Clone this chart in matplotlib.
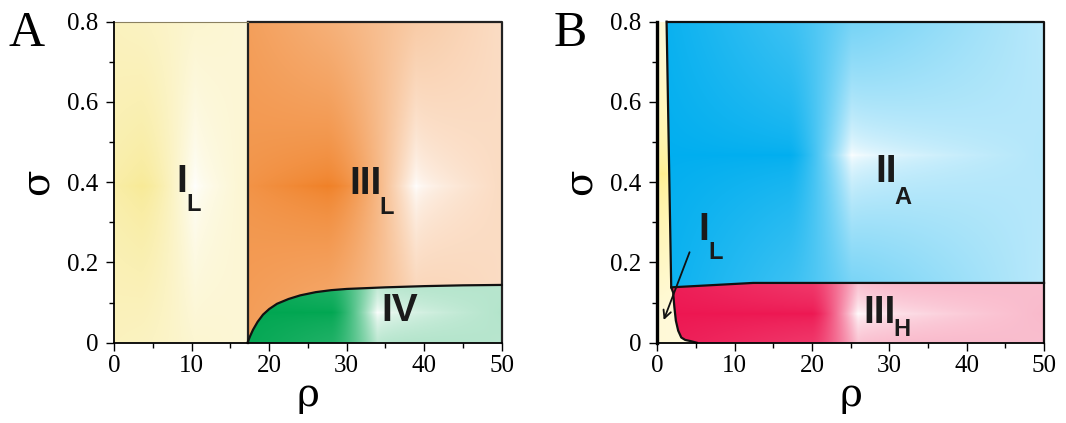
import numpy as np
import matplotlib
matplotlib.use("Agg")
import matplotlib.pyplot as plt
from matplotlib.patches import Polygon
from matplotlib.ticker import MultipleLocator, FixedLocator

# ---------------- data ----------------
x_ticks = [0, 10, 20, 30, 40, 50]
y_ticks = [0, 0.2, 0.4, 0.6, 0.8]
y_tick_labels = ["0", "0.2", "0.4", "0.6", "0.8"]
rho_max = 50
sigma_max = 0.8

# Panel A boundaries
rho_a_IL = 17.2                      # I_L / III_L vertical boundary
rho_a_curve = [17.2, 17.5, 17.9, 18.5, 19.2, 20.0, 21.0, 22.5, 24.0, 26.0,
               28.0, 30.0, 35.0, 40.0, 45.0, 50.0]
sig_a_curve = [0.0, 0.015, 0.032, 0.052, 0.070, 0.084, 0.097, 0.109, 0.118, 0.126,
               0.131, 0.134, 0.138, 0.141, 0.143, 0.144]

# Panel B boundaries
rho_b_yl = [1.2, 1.8, 2.05, 2.2, 2.4, 2.7, 3.1, 3.6, 4.3, 5.1]
sig_b_yl = [0.8, 0.138, 0.125, 0.09, 0.055, 0.030, 0.013, 0.007, 0.004, 0.0]
rho_b_red_top = [1.8, 12.4, 50.0]
sig_b_red_top = [0.138, 0.149, 0.149]

# region colours (darkest tone)
col_yellow = (248, 234, 150)
col_orange = (240, 128, 38)
col_green = (0, 166, 81)
col_blue = (0, 174, 239)
col_red = (237, 22, 81)
col_yellow_b = (255, 240, 140)

# ---------------- helpers ----------------
NX, NY = 700, 450
gx = np.linspace(0, rho_max, NX)
gy = np.linspace(0, sigma_max, NY)
GX, GY = np.meshgrid(gx, gy)


def gradient(base, x0, x1, xd, xw, yc, wl, wr, wel, wer, H, p=1.5):
    """RGBA image: colour weight w toward base, white elsewhere."""
    wh = np.empty_like(GX)
    m1 = GX < xd
    wh[m1] = wl + (1 - wl) * np.clip((GX[m1] - x0) / max(xd - x0, 1e-6), 0, 1)
    m2 = (GX >= xd) & (GX < xw)
    wh[m2] = 1 - ((GX[m2] - xd) / (xw - xd)) ** p
    m3 = GX >= xw
    wh[m3] = wr * np.clip((GX[m3] - xw) / max(x1 - xw, 1e-6), 0, 1) ** 0.6
    wv = wel + (wer - wel) * np.clip((GX - x0) / (x1 - x0), 0, 1)
    b = np.clip(np.abs(GY - yc) / H, 0, 1) ** 0.6
    w = wh * (1 - b) + wv * b
    base = np.array(base) / 255.0
    img = np.ones(GX.shape + (4,))
    for k in range(3):
        img[..., k] = 1 - w * (1 - base[k])
    return img


def fill_region(ax, verts, img):
    poly = Polygon(verts, closed=True, facecolor="none", edgecolor="none")
    ax.add_patch(poly)
    im = ax.imshow(img, extent=[0, rho_max, 0, sigma_max], origin="lower",
                   aspect="auto", interpolation="bilinear", zorder=1)
    im.set_clip_path(poly)


def style_axes(ax):
    ax.set_xlim(0, rho_max)
    ax.set_ylim(0, sigma_max)
    ax.xaxis.set_major_locator(FixedLocator(x_ticks))
    ax.xaxis.set_minor_locator(MultipleLocator(5))
    ax.yaxis.set_major_locator(FixedLocator(y_ticks))
    ax.yaxis.set_minor_locator(MultipleLocator(0.1))
    ax.set_xticklabels([str(v) for v in x_ticks], fontsize=18,
                       fontfamily="Liberation Serif")
    ax.set_yticklabels(y_tick_labels, fontsize=18, fontfamily="Liberation Serif")
    for s in ["top", "right"]:
        ax.spines[s].set_visible(False)
    for s in ["left", "bottom"]:
        ax.spines[s].set_linewidth(1.3)
        ax.spines[s].set_zorder(6)
    ax.tick_params(which="major", direction="out", length=5.5, width=1.0)
    ax.tick_params(which="minor", direction="out", length=3.5, width=1.0)
    ax.tick_params(axis="x", which="major", pad=3)
    ax.tick_params(axis="y", which="major", pad=6)
    ax.set_xlabel("ρ", fontsize=28, fontfamily="DejaVu Serif", labelpad=0)
    ax.set_ylabel("σ", fontsize=28, fontfamily="DejaVu Serif", labelpad=8)


def region_label(ax, x, y, main, sub, xs, ys, size=28, subsize=17):
    ax.text(x, y, main, fontsize=size, fontweight="bold",
            fontfamily="Liberation Sans", ha="center", va="center",
            color="#1a1a1a", zorder=8)
    if sub:
        ax.text(xs, ys, sub, fontsize=subsize, fontweight="bold",
                fontfamily="Liberation Sans", ha="left", va="center",
                color="#1a1a1a", zorder=8)


fig = plt.figure(figsize=(10.66, 4.23), dpi=100)
axA = fig.add_axes([0.1072, 0.1898, 0.3634, 0.7589])
axB = fig.add_axes([0.6166, 0.1898, 0.3628, 0.7589])

# ---------------- Panel A ----------------
ax = axA
ax.set_facecolor("white")
ca = list(zip(rho_a_curve, sig_a_curve))
verts_IL = [(0, 0), (0, sigma_max), (rho_a_IL, sigma_max), (rho_a_IL, 0)]
verts_III = [(rho_a_IL, 0), (rho_a_IL, sigma_max), (rho_max, sigma_max)] + ca[::-1]
verts_IV = ca + [(rho_max, 0)]

fill_region(ax, verts_IL, gradient(col_yellow, 0, rho_a_IL, 3.5, 10.5, 0.39,
                                   0.85, 0.45, 0.6, 0.38, 0.45))
fill_region(ax, verts_III, gradient(col_orange, rho_a_IL, rho_max, 27.5, 39.0, 0.39,
                                    0.85, 0.28, 0.75, 0.27, 0.45))
fill_region(ax, verts_IV, gradient(col_green, rho_a_IL, rho_max, 28.0, 34.0, 0.075,
                                   1.0, 0.3, 0.95, 0.25, 0.3))

lw = 1.6
ax.plot([rho_a_IL, rho_a_IL], [0, sigma_max], color="#222", lw=lw, zorder=5, clip_on=False)
ax.plot([rho_a_IL, rho_max, rho_max], [sigma_max, sigma_max, 0], color="#222", lw=lw,
        zorder=5, clip_on=False)
ax.plot([0, rho_a_IL], [sigma_max, sigma_max], color="#8a8060", lw=0.8, zorder=5, clip_on=False)
ax.plot(rho_a_curve, sig_a_curve, color="#111", lw=lw, zorder=5, clip_on=False)

region_label(ax, 8.7, 0.40, "I", "L", 9.35, 0.345)
region_label(ax, 32.4, 0.395, "III", "L", 34.2, 0.338)
region_label(ax, 36.9, 0.079, "IV", "", 0, 0)
style_axes(ax)

# ---------------- Panel B ----------------
ax = axB
ax.set_facecolor("white")
yl = list(zip(rho_b_yl, sig_b_yl))
rt = list(zip(rho_b_red_top, sig_b_red_top))
verts_Y = [(0, 0), (0, sigma_max)] + yl
verts_blue = [(rho_b_yl[0], sigma_max), (rho_max, sigma_max)] + rt[::-1] + \
    [p for p in yl[::-1] if p[1] > 0.138]
verts_red = rt + [(rho_max, 0)] + [p for p in yl[::-1] if p[1] < 0.138]

fill_region(ax, verts_Y, gradient(col_yellow_b, 0, 5, 0.6, 4.5, 0.42,
                                  0.9, 0.2, 0.35, 0.3, 0.35))
fill_region(ax, verts_blue, gradient(col_blue, 0, rho_max, 17.0, 25.2, 0.467,
                                     1.0, 0.3, 0.97, 0.27, 0.42))
fill_region(ax, verts_red, gradient(col_red, 0, rho_max, 20.0, 26.0, 0.072,
                                    1.0, 0.3, 0.95, 0.25, 0.3))

ax.plot(rho_b_yl, sig_b_yl, color="#111", lw=lw, zorder=5, clip_on=False)
ax.plot(rho_b_red_top, sig_b_red_top, color="#111", lw=lw, zorder=5, clip_on=False)
ax.plot([rho_b_yl[0], rho_max, rho_max], [sigma_max, sigma_max, 0], color="#111",
        lw=lw, zorder=5, clip_on=False)

region_label(ax, 29.6, 0.425, "II", "A", 30.7, 0.362)
region_label(ax, 28.7, 0.073, "III", "H", 30.5, 0.032)
region_label(ax, 6.0, 0.280, "I", "L", 6.6, 0.224)
ax.annotate("", xy=(0.7, 0.05), xytext=(4.3, 0.232),
            arrowprops=dict(arrowstyle="->", color="#111", lw=1.3,
                            mutation_scale=14), zorder=9)
style_axes(ax)
ax.spines["left"].set_linewidth(2.4)

# panel letters
fig.text(0.008, 0.975, "A", fontsize=36, fontfamily="Liberation Serif", va="top", ha="left")
fig.text(0.519, 0.975, "B", fontsize=36, fontfamily="Liberation Serif", va="top", ha="left")

fig.savefig("out.png", dpi=100)
